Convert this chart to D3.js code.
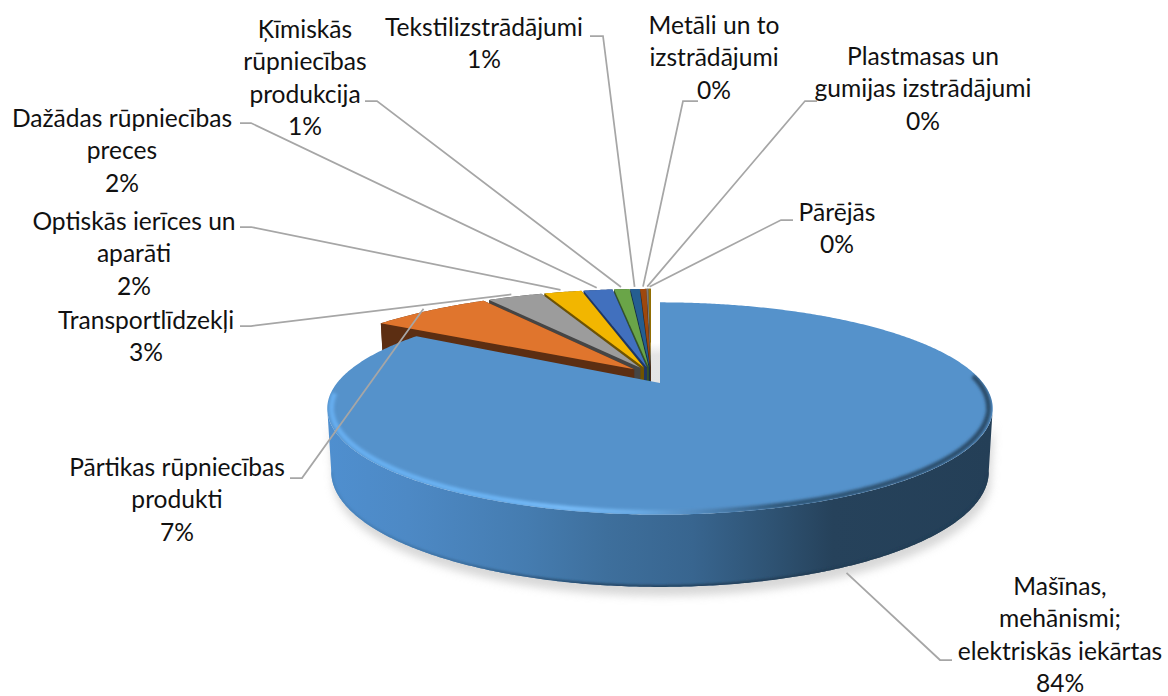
<!DOCTYPE html>
<html>
<head>
<meta charset="utf-8">
<script src="https://cdn.jsdelivr.net/npm/d3@7/dist/d3.min.js"></script>
<style>html,body{margin:0;padding:0;background:#fff}svg{display:block}</style>
</head>
<body>
<svg id="c" width="1168" height="696"></svg>
<script>
// ---- data ----
const categories = [
  ["Mašīnas,", "mehānismi;", "elektriskās iekārtas"],
  ["Pārtikas rūpniecības", "produkti"],
  ["Transportlīdzekļi"],
  ["Optiskās ierīces un", "aparāti"],
  ["Dažādas rūpniecības", "preces"],
  ["Ķīmiskās", "rūpniecības", "produkcija"],
  ["Tekstilizstrādājumi"],
  ["Metāli un to", "izstrādājumi"],
  ["Plastmasas un", "gumijas izstrādājumi"],
  ["Pārējās"]
];
const values = [83.85, 7.0, 3.2, 2.2, 1.7, 0.9, 0.55, 0.35, 0.1, 0.15];
const topColors  = ["#5592cb","#e0752d","#9c9c9c","#f2b600","#4170be","#6aa548","#255e91","#9e480e","#7a7a7a","#997300"];
const wallColors = ["#2a4a66","#5c2e12","#454545","#6f5300","#1f3764","#34532a","#132f49","#4e2407","#3c3c3c","#4c3900"];

// ---- layout of labels (centre x, centre y of first line, elbow, knee) ----
const labelX = [1060, 177, 146, 134, 122, 305, 484, 714, 923, 837];
const labelY = [585, 466, 319, 220, 117, 28, 26, 24, 55, 211];
const lineGap = 32.4;
const elbowStart = [[952,660],[290,478],[240,326],[240,227],[240,123],[365,101],[590,36],[698,101],[817,101],[793,220]];
const elbowKnee  = [[940,660],[302,478],[251,326],[251,227],[251,123],[377,101],[603,36],[683,101],[805,101],[781,220]];

// ---- projection ----
const k = 0.24;
const blueDisc = {cx:660, cy:383, s:323, t:100};
const restDisc = {cx:651, cy:374, s:342, t:100};
const explode = 0.07;
const lowerDrop = 61, lowerSX = 0.988, lowerSY = 1.086;

function projector(d){
  const sx = d3.scaleLinear().domain([-1,1]).range([d.cx-d.s, d.cx+d.s]);
  const sy = d3.scaleLinear().domain([-1,1]).range([d.cy+d.t, d.cy-d.t]);
  return function(a, r, ex, ey, lower){
    const X = r*Math.sin(a)+ex, Y = r*Math.cos(a)+ey, w = 1+k*Y;
    let px = sx(X/w), py = sy(Y/w);
    if(lower){
      px = d.cx + (px-d.cx)*lowerSX;
      py = d.cy + lowerDrop + (py-d.cy)*lowerSY;
    }
    return [px,py];
  };
}
const pBlue = projector(blueDisc), pRest = projector(restDisc);

const svg = d3.select("#c");
const defs = svg.append("defs");
const line = d3.line();
const arcs = d3.pie().sort(null).value(d=>d)(values);
const deg = Math.PI/180;

function sample(a0,a1,step){
  const n = Math.max(2, Math.ceil(Math.abs(a1-a0)/(step||deg)));
  return d3.range(n+1).map(i=>a0+(a1-a0)*i/n);
}
function grad(id, stops, x1, x2){
  const g = defs.append("linearGradient").attr("id",id).attr("gradientUnits","userSpaceOnUse")
    .attr("x1",x1).attr("x2",x2).attr("y1",0).attr("y2",0);
  stops.forEach(s=>g.append("stop").attr("offset",s[0]).attr("stop-color",s[1]));
}
function blur(id, sd){
  defs.append("filter").attr("id",id).attr("x","-10%").attr("y","-30%").attr("width","120%").attr("height","160%")
    .append("feGaussianBlur").attr("stdDeviation",sd);
}
blur("b4",4); blur("b15",1.5); blur("b1",0.9);

const xL = blueDisc.cx-332, xR = blueDisc.cx+332;
grad("side", [[0,"#4f8fcf"],[0.12,"#4d89c5"],[0.3,"#457cb0"],[0.42,"#3e6f9c"],[0.55,"#38658f"],[0.66,"#2f5475"],[0.76,"#26425b"],[1,"#243f57"]], xL, xR);
grad("rim",  [[0,"#66aef0"],[0.25,"#6cb4f4"],[0.36,"#78bcf9"],[0.46,"#6caee8"],[0.56,"#5288bb"],[0.68,"#2f5677"],[1,"#2b4b68"]], xL, xR);
grad("lip",  [[0,"#4a87c2"],[0.2,"#3c6f9f"],[0.4,"#26496a"],[0.7,"#223c54"],[1,"#223c54"]], xL, xR);
const vg = defs.append("linearGradient").attr("id","gap").attr("x1",0).attr("x2",0).attr("y1",0).attr("y2",1);
vg.append("stop").attr("offset",0).attr("stop-color","#fff");
vg.append("stop").attr("offset",0.3).attr("stop-color","#e6e6e6");
vg.append("stop").attr("offset",1).attr("stop-color","#e4e4e4");

const blue = arcs[0];
const aR = Math.acos(-k), aL = 2*Math.PI-aR;
const frontA = sample(aR,aL,deg/2);
const sideTop = frontA.map(a=>pBlue(a,1,0,0,false));
const sideLow = frontA.map(a=>pBlue(a,1,0,0,true));
const sidePath = line(sideTop.concat(sideLow.slice().reverse()))+"Z";
const apex = pBlue(0,0,0,0,false);

// soft shadow under the main slice
svg.append("path").attr("d",sidePath).attr("fill","#bdbdbd").attr("opacity",0.6)
  .attr("transform","translate(2,9)").attr("filter","url(#b4)");
// shadow in the gap between the slices
svg.append("rect").attr("x",apex[0]-13).attr("y",apex[1]-40).attr("width",15).attr("height",40)
  .attr("fill","url(#gap)");

// ---- other slices, painted from the last to the second ----
const restG = svg.append("g");
arcs.slice(1).reverse().forEach(d=>{
  const mid = (d.startAngle+d.endAngle)/2;
  const ex = explode*Math.sin(mid), ey = explode*Math.cos(mid);
  const as = sample(d.startAngle,d.endAngle,deg/2);
  const i = d.index;
  const top = as.map(a=>pRest(a,1,ex,ey,false));
  const low = as.map(a=>pRest(a,1,ex,ey,true));
  const apexT = pRest(0,0,ex,ey,false), apexL = pRest(0,0,ex,ey,true);
  restG.append("path").attr("d",line(top.concat(low.slice().reverse()))+"Z").attr("fill",wallColors[i]);
  [0,as.length-1].forEach(j=>{
    restG.append("path").attr("d",line([apexT,top[j],low[j],apexL])+"Z").attr("fill",wallColors[i]);
  });
  restG.append("path").attr("d",line([apexT].concat(top))+"Z").attr("fill",topColors[i]);
});

// ---- main slice ----
defs.append("clipPath").attr("id","sideClip").append("path").attr("d",sidePath);
svg.append("path").attr("d",sidePath).attr("fill","url(#side)");
svg.append("g").attr("clip-path","url(#sideClip)").append("path")
  .attr("d",line(sideLow)).attr("fill","none").attr("stroke","url(#lip)").attr("stroke-width",4).attr("filter","url(#b1)");

const blueAngles = sample(blue.startAngle,blue.endAngle,deg/2);
const bluePts = [apex].concat(blueAngles.map(a=>pBlue(a,1,0,0,false)));
const bluePath = line(bluePts)+"Z";
svg.append("path").attr("d",bluePath).attr("fill",topColors[0]);
defs.append("clipPath").attr("id","topClip").append("path").attr("d",bluePath);
// bevel along the front rim
svg.append("g").attr("clip-path","url(#topClip)").append("path")
  .attr("d",line(sample(aR-deg*18,aL+deg*8,deg/2).map(a=>pBlue(a,0.988,0,0,false))))
  .attr("fill","none").attr("stroke","url(#rim)").attr("stroke-width",5).attr("filter","url(#b15)");

// ---- leader lines ----
const leaderG = svg.append("g").attr("fill","none").attr("stroke","#a6a6a6").attr("stroke-width",1.75);
arcs.forEach(d=>{
  const i = d.index, mid = (d.startAngle+d.endAngle)/2;
  const ex = explode*Math.sin(mid), ey = explode*Math.cos(mid);
  const end = i===0 ? pBlue(mid+0.05,1.03,0,0,true) : pRest(mid,1.035,ex,ey,false);
  leaderG.append("path").attr("d",line([elbowStart[i],elbowKnee[i],end]));
});

// ---- labels ----
const pct = d3.format(".0f");
const labelG = svg.append("g").attr("font-family","Lato, 'Noto Sans', sans-serif").attr("font-size",24.6)
  .attr("fill","#111").attr("text-anchor","middle");
categories.forEach((lines,i)=>{
  const all = lines.concat([pct(values[i])+"%"]);
  const t = labelG.append("text").attr("dominant-baseline","central");
  all.forEach((s,j)=>t.append("tspan").attr("x",labelX[i]).attr("y",labelY[i]+j*lineGap).text(s));
});
</script>
</body>
</html>
